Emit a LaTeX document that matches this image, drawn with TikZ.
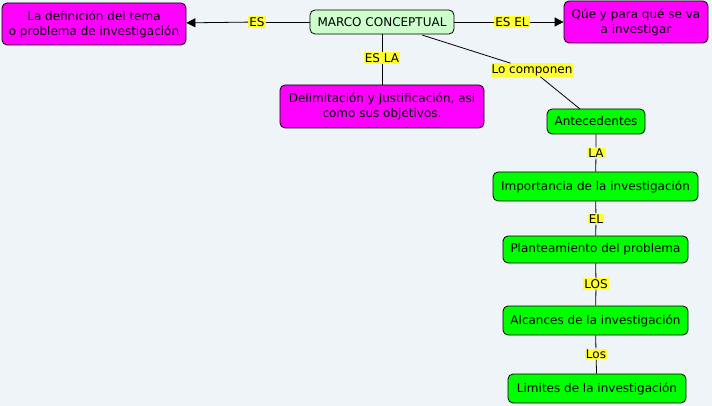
\documentclass[tikz,border=0pt]{standalone}
\usepackage{fontspec}
\setmainfont{DejaVu Sans}
\usetikzlibrary{arrows.meta}
\definecolor{bg}{HTML}{EEF4F7}
\definecolor{mag}{HTML}{FF00FF}
\definecolor{lgreen}{HTML}{CCFFCC}
\definecolor{bgreen}{HTML}{00FF00}
\definecolor{lab}{HTML}{FFFF33}
\begin{document}
\begin{tikzpicture}[x=1pt,y=-1pt,
  box/.style={draw=black, rounded corners=5pt, line width=0.8pt, align=center, font=\fontsize{12}{15}\selectfont, inner sep=0pt},
  magbox/.style={box, fill=mag},
  grbox/.style={box, fill=bgreen},
  lbl/.style={fill=lab, inner sep=1pt, font=\fontsize{12}{13}\selectfont},
  conn/.style={line width=0.8pt},
  arr/.style={conn, -{Triangle[length=9pt,width=9pt]}}]
\fill[bg] (0,0) rectangle (712,406);
\useasboundingbox (0,0) rectangle (712,406);
\node[magbox, minimum width=184pt, minimum height=42pt] (def) at (94,24) {La definición del tema\\o problema de investigación};
\node[box, fill=lgreen, minimum width=144pt, minimum height=24pt] (mc) at (382,22) {MARCO CONCEPTUAL};
\node[magbox, minimum width=144pt, minimum height=42pt] (que) at (636,22) {Qúe y para qué se va\\a investigar};
\node[magbox, minimum width=204pt, minimum height=43pt] (del) at (382,106.5) {Delimitación y Justificación, asi\\como sus objetivos.};
\node[grbox, minimum width=98pt, minimum height=25pt] (ant) at (596,121.5) {Antecedentes};
\node[grbox, minimum width=205pt, minimum height=29pt] (imp) at (595.5,186.5) {Importancia de la investigación};
\node[grbox, minimum width=185pt, minimum height=27pt] (pla) at (595.5,249.5) {Planteamiento del problema};
\node[grbox, minimum width=185pt, minimum height=29pt] (alc) at (595.5,320.5) {Alcances de la investigación};
\node[grbox, minimum width=178pt, minimum height=29pt] (lim) at (597,388.5) {Limites de la investigación};

\node[lbl] (l1) at (257,22) {ES};
\node[lbl] (l2) at (512,22) {ES EL};
\node[lbl] (l3) at (382,58) {ES LA};
\node[lbl] (l4) at (532,70) {Lo componen};
\node[lbl] (l5) at (596,153) {LA};
\node[lbl] (l6) at (596,219) {EL};
\node[lbl] (l7) at (596,284) {LOS};
\node[lbl] (l8) at (596,354) {Los};

\draw[conn] (mc) -- (l1);
\draw[arr] (l1) -- (def);
\draw[conn] (mc) -- (l2);
\draw[arr] (l2) -- (que);
\draw[conn] (mc) -- (l3) -- (del);
\coordinate (mcs) at (422,35);
\coordinate (ants) at (580,109);
\draw[conn] (mcs) -- (l4) -- (ants);
\draw[conn] (ant) -- (l5) -- (imp);
\draw[conn] (imp) -- (l6) -- (pla);
\draw[conn] (pla) -- (l7) -- (alc);
\draw[conn] (alc) -- (l8) -- (lim);
\end{tikzpicture}
\end{document}
